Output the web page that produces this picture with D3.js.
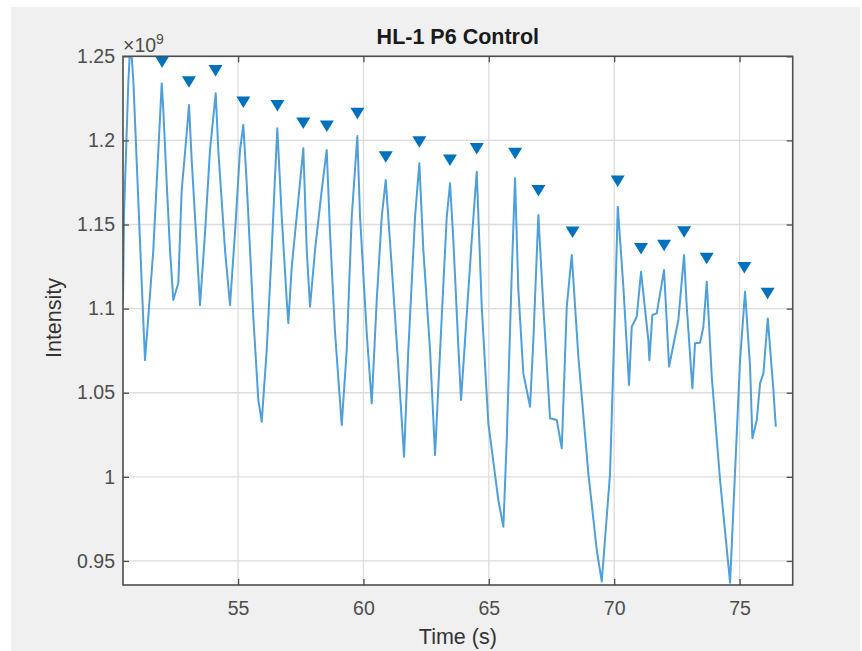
<!DOCTYPE html>
<html>
<head>
<meta charset="utf-8">
<script src="https://cdn.jsdelivr.net/npm/d3@7"></script>
<style>
  body { margin: 0; background: #ffffff; }
  svg { display: block; font-family: "Liberation Sans", Arial, Helvetica, sans-serif; }
  .tick text { fill: #4d4d4d; font-size: 19.5px; }
  .domain { display: none; }
  .tick line { stroke: #4d4d4d; stroke-width: 1.3; }
</style>
</head>
<body>
<div id="chart"></div>
<script>
var svgWidth = 862;
var svgHeight = 651;

var margin = { top: 56.3, right: 69.3, bottom: 66, left: 123 };

var width = svgWidth - margin.left - margin.right;
var height = svgHeight - margin.top - margin.bottom;

// signal (time in s, intensity in units of 1e9)
var timeVals = [
  50.410, 50.450, 50.621, 50.709, 50.821, 51.020, 51.156, 51.288, 51.419, 51.619,
  51.954, 52.018, 52.153, 52.285, 52.416, 52.616, 52.751, 52.951, 53.043, 53.150,
  53.282, 53.481, 53.681, 53.880, 54.108, 54.211, 54.479, 54.678, 54.877, 55.077,
  55.209, 55.344, 55.607, 55.807, 55.943, 56.142, 56.341, 56.473, 56.565, 56.741,
  56.940, 57.004, 57.140, 57.403, 57.602, 57.738, 57.869, 58.069, 58.336, 58.535,
  58.667, 58.867, 59.134, 59.333, 59.533, 59.756, 59.864, 60.131, 60.330, 60.530,
  60.729, 60.889, 61.128, 61.391, 61.619, 61.790, 62.058, 62.229, 62.389, 62.656,
  62.855, 63.123, 63.322, 63.454, 63.585, 63.785, 63.892, 64.052, 64.319, 64.519,
  64.718, 64.981, 65.380, 65.580, 65.715, 65.915, 66.046, 66.178, 66.377, 66.645,
  66.776, 66.976, 67.175, 67.442, 67.710, 67.909, 68.109, 68.308, 68.571, 68.970,
  69.305, 69.505, 69.836, 70.035, 70.143, 70.366, 70.593, 70.701, 70.900, 71.072,
  71.363, 71.403, 71.523, 71.698, 71.989, 72.189, 72.560, 72.787, 72.895, 73.118,
  73.226, 73.425, 73.557, 73.693, 73.892, 74.223, 74.622, 75.021, 75.220, 75.420,
  75.512, 75.687, 75.819, 75.951, 76.126, 76.350, 76.446
];
var intensityVals = [
  1.1039, 1.1556, 1.2341, 1.2597, 1.2359, 1.1646, 1.1152, 1.0694, 1.0950, 1.1348,
  1.2339, 1.2181, 1.1747, 1.1348, 1.1051, 1.1152, 1.1705, 1.2044, 1.2210, 1.1883,
  1.1546, 1.1021, 1.1450, 1.1943, 1.2280, 1.1943, 1.1348, 1.1021, 1.1450, 1.1943,
  1.2092, 1.1747, 1.0952, 1.0457, 1.0328, 1.0754, 1.1348, 1.1784, 1.2072, 1.1546,
  1.1051, 1.0913, 1.1249, 1.1646, 1.1953, 1.1348, 1.1011, 1.1348, 1.1705, 1.1943,
  1.1450, 1.0855, 1.0308, 1.0754, 1.1546, 1.2026, 1.1546, 1.0855, 1.0437, 1.1051,
  1.1546, 1.1765, 1.1249, 1.0655, 1.0120, 1.0754, 1.1546, 1.1864, 1.1348, 1.0754,
  1.0130, 1.0952, 1.1546, 1.1745, 1.1408, 1.0774, 1.0457, 1.0813, 1.1408, 1.1814,
  1.1011, 1.0318, 0.9862, 0.9703, 1.0219, 1.1210, 1.1775, 1.1111, 1.0615, 1.0417,
  1.0813, 1.1557, 1.1011, 1.0348, 1.0338, 1.0170, 1.1011, 1.1319, 1.0714, 1.0021,
  0.9565, 0.9377, 1.0021, 1.1011, 1.1606, 1.1130, 1.0546, 1.0892, 1.0952, 1.1219,
  1.0813, 1.0694, 1.0962, 1.0972, 1.1230, 1.0655, 1.0932, 1.1319, 1.1011, 1.0526,
  1.0794, 1.0797, 1.0892, 1.1160, 1.0595, 0.9981, 0.9371, 1.0694, 1.1101, 1.0655,
  1.0229, 1.0338, 1.0556, 1.0615, 1.0942, 1.0516, 1.0298
];

// peak markers
var peakTimes = [
  51.97, 53.04, 54.10, 55.21, 56.57, 57.60, 58.54, 59.76, 60.89, 62.23, 63.45,
  64.52, 66.05, 66.98, 68.34, 70.14, 71.07, 71.99, 72.79, 73.69, 75.19, 76.12
];
var peakVals = [
  1.2468, 1.2349, 1.2416, 1.2228, 1.2207, 1.2103, 1.2086, 1.2161, 1.1903, 1.1992, 1.1883,
  1.1952, 1.1923, 1.1702, 1.1455, 1.1759, 1.1358, 1.1376, 1.1457, 1.1299, 1.1244, 1.1091
];

var xTicks = [55, 60, 65, 70, 75];
var yTicks = [0.95, 1, 1.05, 1.1, 1.15, 1.2, 1.25];

var xDomain = [50.41, 77.12];
var yDomain = [0.9357, 1.25];

var signal = timeVals.map((t, i) => ({ t: t, v: intensityVals[i] }));
var peaks = peakTimes.map((t, i) => ({ t: t, v: peakVals[i] }));

var svg = d3.select("#chart")
  .append("svg")
  .attr("width", svgWidth)
  .attr("height", svgHeight);

// figure background
svg.append("rect")
  .attr("x", 11)
  .attr("y", 7)
  .attr("width", 849)
  .attr("height", 644)
  .attr("fill", "#f0f0f0");

var chartGroup = svg.append("g")
  .attr("transform", `translate(${margin.left}, ${margin.top})`);

var xScale = d3.scaleLinear().domain(xDomain).range([0, width]);
var yScale = d3.scaleLinear().domain(yDomain).range([height, 0]);

chartGroup.append("rect")
  .attr("width", width)
  .attr("height", height)
  .attr("fill", "#ffffff");

// grid
chartGroup.append("g")
  .selectAll("line")
  .data(xTicks)
  .enter()
  .append("line")
  .attr("x1", d => xScale(d))
  .attr("x2", d => xScale(d))
  .attr("y1", 0)
  .attr("y2", height)
  .attr("stroke", "#dcdcdc")
  .attr("stroke-width", 1.3);

chartGroup.append("g")
  .selectAll("line")
  .data(yTicks)
  .enter()
  .append("line")
  .attr("x1", 0)
  .attr("x2", width)
  .attr("y1", d => yScale(d))
  .attr("y2", d => yScale(d))
  .attr("stroke", "#dcdcdc")
  .attr("stroke-width", 1.3);

chartGroup.append("clipPath")
  .attr("id", "plotClip")
  .append("rect")
  .attr("width", width)
  .attr("height", height);

var line = d3.line()
  .x(d => xScale(d.t))
  .y(d => yScale(d.v));

chartGroup.append("path")
  .datum(signal)
  .attr("clip-path", "url(#plotClip)")
  .attr("fill", "none")
  .attr("stroke", "#4f9fdb")
  .attr("stroke-width", 2)
  .attr("stroke-linejoin", "round")
  .attr("d", line);

// downward triangle markers
chartGroup.append("g")
  .attr("clip-path", "url(#plotClip)")
  .selectAll("path")
  .data(peaks)
  .enter()
  .append("path")
  .attr("transform", d => `translate(${xScale(d.t)}, ${yScale(d.v)})`)
  .attr("d", "M-7,-5.5L7,-5.5L0,6Z")
  .attr("fill", "#0072bd");

// axes, ticks pointing inward
chartGroup.append("g")
  .attr("transform", `translate(0, ${height})`)
  .call(d3.axisBottom(xScale).tickValues(xTicks).tickSize(-6).tickPadding(16));

chartGroup.append("g")
  .call(d3.axisTop(xScale).tickValues(xTicks).tickSize(-6).tickFormat(""));

chartGroup.append("g")
  .call(d3.axisLeft(yScale).tickValues(yTicks).tickSize(-6).tickPadding(8).tickFormat(d3.format("~g")));

chartGroup.append("g")
  .attr("transform", `translate(${width}, 0)`)
  .call(d3.axisRight(yScale).tickValues(yTicks).tickSize(-6).tickFormat(""));

chartGroup.append("rect")
  .attr("width", width)
  .attr("height", height)
  .attr("fill", "none")
  .attr("stroke", "#4d4d4d")
  .attr("stroke-width", 1.6);

// exponent label
var expLabel = svg.append("text")
  .attr("x", 123)
  .attr("y", 51.5)
  .attr("fill", "#4d4d4d")
  .style("font-size", "19.5px");
expLabel.append("tspan").text("\u00d710");
expLabel.append("tspan")
  .attr("dy", -8)
  .style("font-size", "14px")
  .text("9");

// title and axis labels
svg.append("text")
  .attr("x", margin.left + width / 2)
  .attr("y", 44)
  .attr("text-anchor", "middle")
  .attr("fill", "#1a1a1a")
  .style("font-size", "21.5px")
  .style("font-weight", "bold")
  .text("HL-1 P6 Control");

svg.append("text")
  .attr("x", margin.left + width / 2)
  .attr("y", 644)
  .attr("text-anchor", "middle")
  .attr("fill", "#333333")
  .style("font-size", "21.5px")
  .text("Time (s)");

svg.append("text")
  .attr("transform", "rotate(-90)")
  .attr("x", -318)
  .attr("y", 61)
  .attr("text-anchor", "middle")
  .attr("fill", "#333333")
  .style("font-size", "21.5px")
  .text("Intensity");
</script>
</body>
</html>
